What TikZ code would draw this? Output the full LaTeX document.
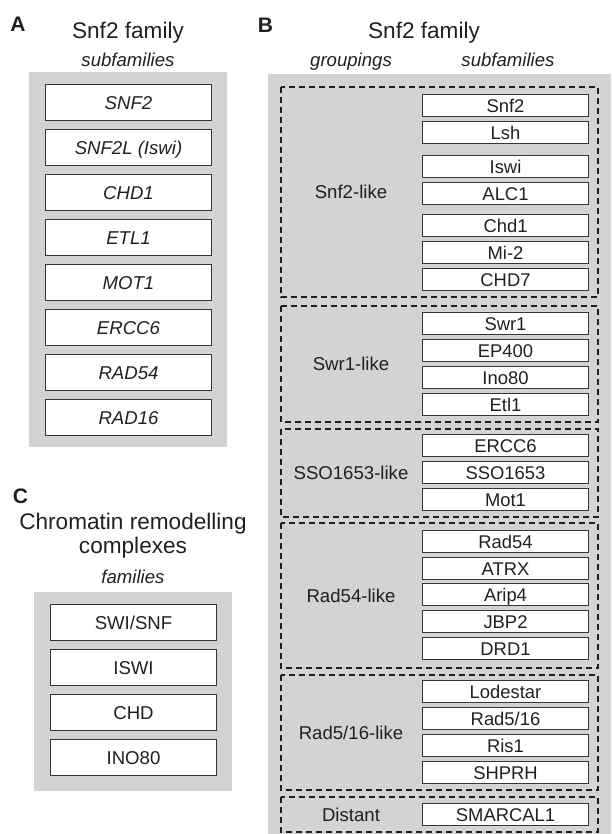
\documentclass[tikz,border=0pt]{standalone}
\usepackage{fontspec}
\setmainfont{Liberation Sans}
\usepackage{tikz}
\usetikzlibrary{positioning}
\definecolor{panelgray}{RGB}{209,211,212}
\definecolor{ink}{RGB}{35,31,32}

\begin{document}
\begin{tikzpicture}[x=0.5pt, y=-0.5pt, every node/.style = {text=ink, align=center},
    letter/.style = {font=\fontsize{10.5}{12}\selectfont\bfseries, inner sep=0pt, text height=7.5pt, text depth=0pt},
    title/.style = {font=\fontsize{11.3}{13}\selectfont, anchor=base, inner sep=0pt},
    heading/.style = {font=\fontsize{9.3}{11}\selectfont\itshape, anchor=base, inner sep=0pt},
    famboxA/.style = {draw=ink!90, line width=0.85pt, fill=white, minimum width=83pt, minimum height=18pt,
      inner sep=0pt, text height=6.7pt, text depth=0pt, font=\fontsize{9.3}{11}\selectfont\itshape},
    famboxC/.style = {famboxA, font=\fontsize{9.3}{11}\selectfont},
    subbox/.style = {draw=ink!90, line width=0.8pt, fill=white, minimum width=83pt, minimum height=11pt,
      inner sep=0pt, text height=6.6pt, text depth=0pt, font=\fontsize{9.2}{11}\selectfont},
    grouping/.style = {draw=ink, line width=0.65pt, dash pattern=on 3pt off 2pt},
    grouplabel/.style = {font=\fontsize{9.3}{11}\selectfont, inner sep=0pt, text height=6.7pt, text depth=0pt}]
  \useasboundingbox (0,0) rectangle (611,834);

  % A: Snf2 subfamilies
  \node[letter] (lblA) at (18,24.5) {A};
  \node[title] (titleA) at (128,38.5) {Snf2 family};
  \node[heading] (headA) at (128,66.5) {subfamilies};
  \fill[panelgray] (29,72) rectangle (227,447);
  \foreach \n/\t [count=\i from 0] in {snf2/SNF2, snf2l/SNF2L (Iswi), chd1/CHD1, etl1/ETL1,
      mot1/MOT1, ercc6/ERCC6, rad54/RAD54, rad16/RAD16}
    \node[famboxA] (a-\n) at (128.5,102.5+45*\i) {\t};

  % C: remodelling complexes
  \node[letter] (lblC) at (20.5,495.5) {C};
  \node[title] (titleC1) at (133,529) {Chromatin remodelling};
  \node[title] (titleC2) at (133,553) {complexes};
  \node[heading] (headC) at (133,583) {families};
  \fill[panelgray] (34,592) rectangle (232,791);
  \foreach \n/\t [count=\i from 0] in {swisnf/{SWI/SNF}, iswi/ISWI, chd/CHD, ino80/INO80}
    \node[famboxC] (c-\n) at (133.5,622.5+45*\i) {\t};

  % B: groupings and subfamilies
  \node[letter] (lblB) at (265.5,25.5) {B};
  \node[title] (titleB) at (424,38.5) {Snf2 family};
  \node[heading] (headB1) at (351,66.5) {groupings};
  \node[heading] (headB2) at (508,66.5) {subfamilies};
  \fill[panelgray] (268,74) rectangle (611,834);
  \foreach \n/\t/\ya/\yb in {snf2like/Snf2-like/87/297, swr1like/Swr1-like/306/422,
      ssolike/SSO1653-like/429/517, rad54like/Rad54-like/523/668,
      rad516like/{Rad5/16-like}/675/790, distant/Distant/797/832} {
    \draw[grouping] (281,\ya) rectangle (598,\yb);
    \node[grouplabel] (g-\n) at (351,{(\ya+\yb)/2}) {\t};
  }
  \foreach \n/\t/\y in {snf2/Snf2/94, lsh/Lsh/121, iswi/Iswi/155, alc1/ALC1/182,
      chd1/Chd1/214, mi2/Mi-2/241, chd7/CHD7/268,
      swr1/Swr1/312, ep400/EP400/339, ino80/Ino80/366, etl1/Etl1/393,
      ercc6/ERCC6/434, sso1653/SSO1653/461, mot1/Mot1/488,
      rad54/Rad54/530, atrx/ATRX/557, arip4/Arip4/583, jbp2/JBP2/610, drd1/DRD1/637,
      lodestar/Lodestar/680, rad516/{Rad5/16}/707, ris1/Ris1/734, shprh/SHPRH/761,
      smarcal1/SMARCAL1/803}
    \node[subbox] (b-\n) at (505.5,\y+11.5) {\t};
\end{tikzpicture}
\end{document}
